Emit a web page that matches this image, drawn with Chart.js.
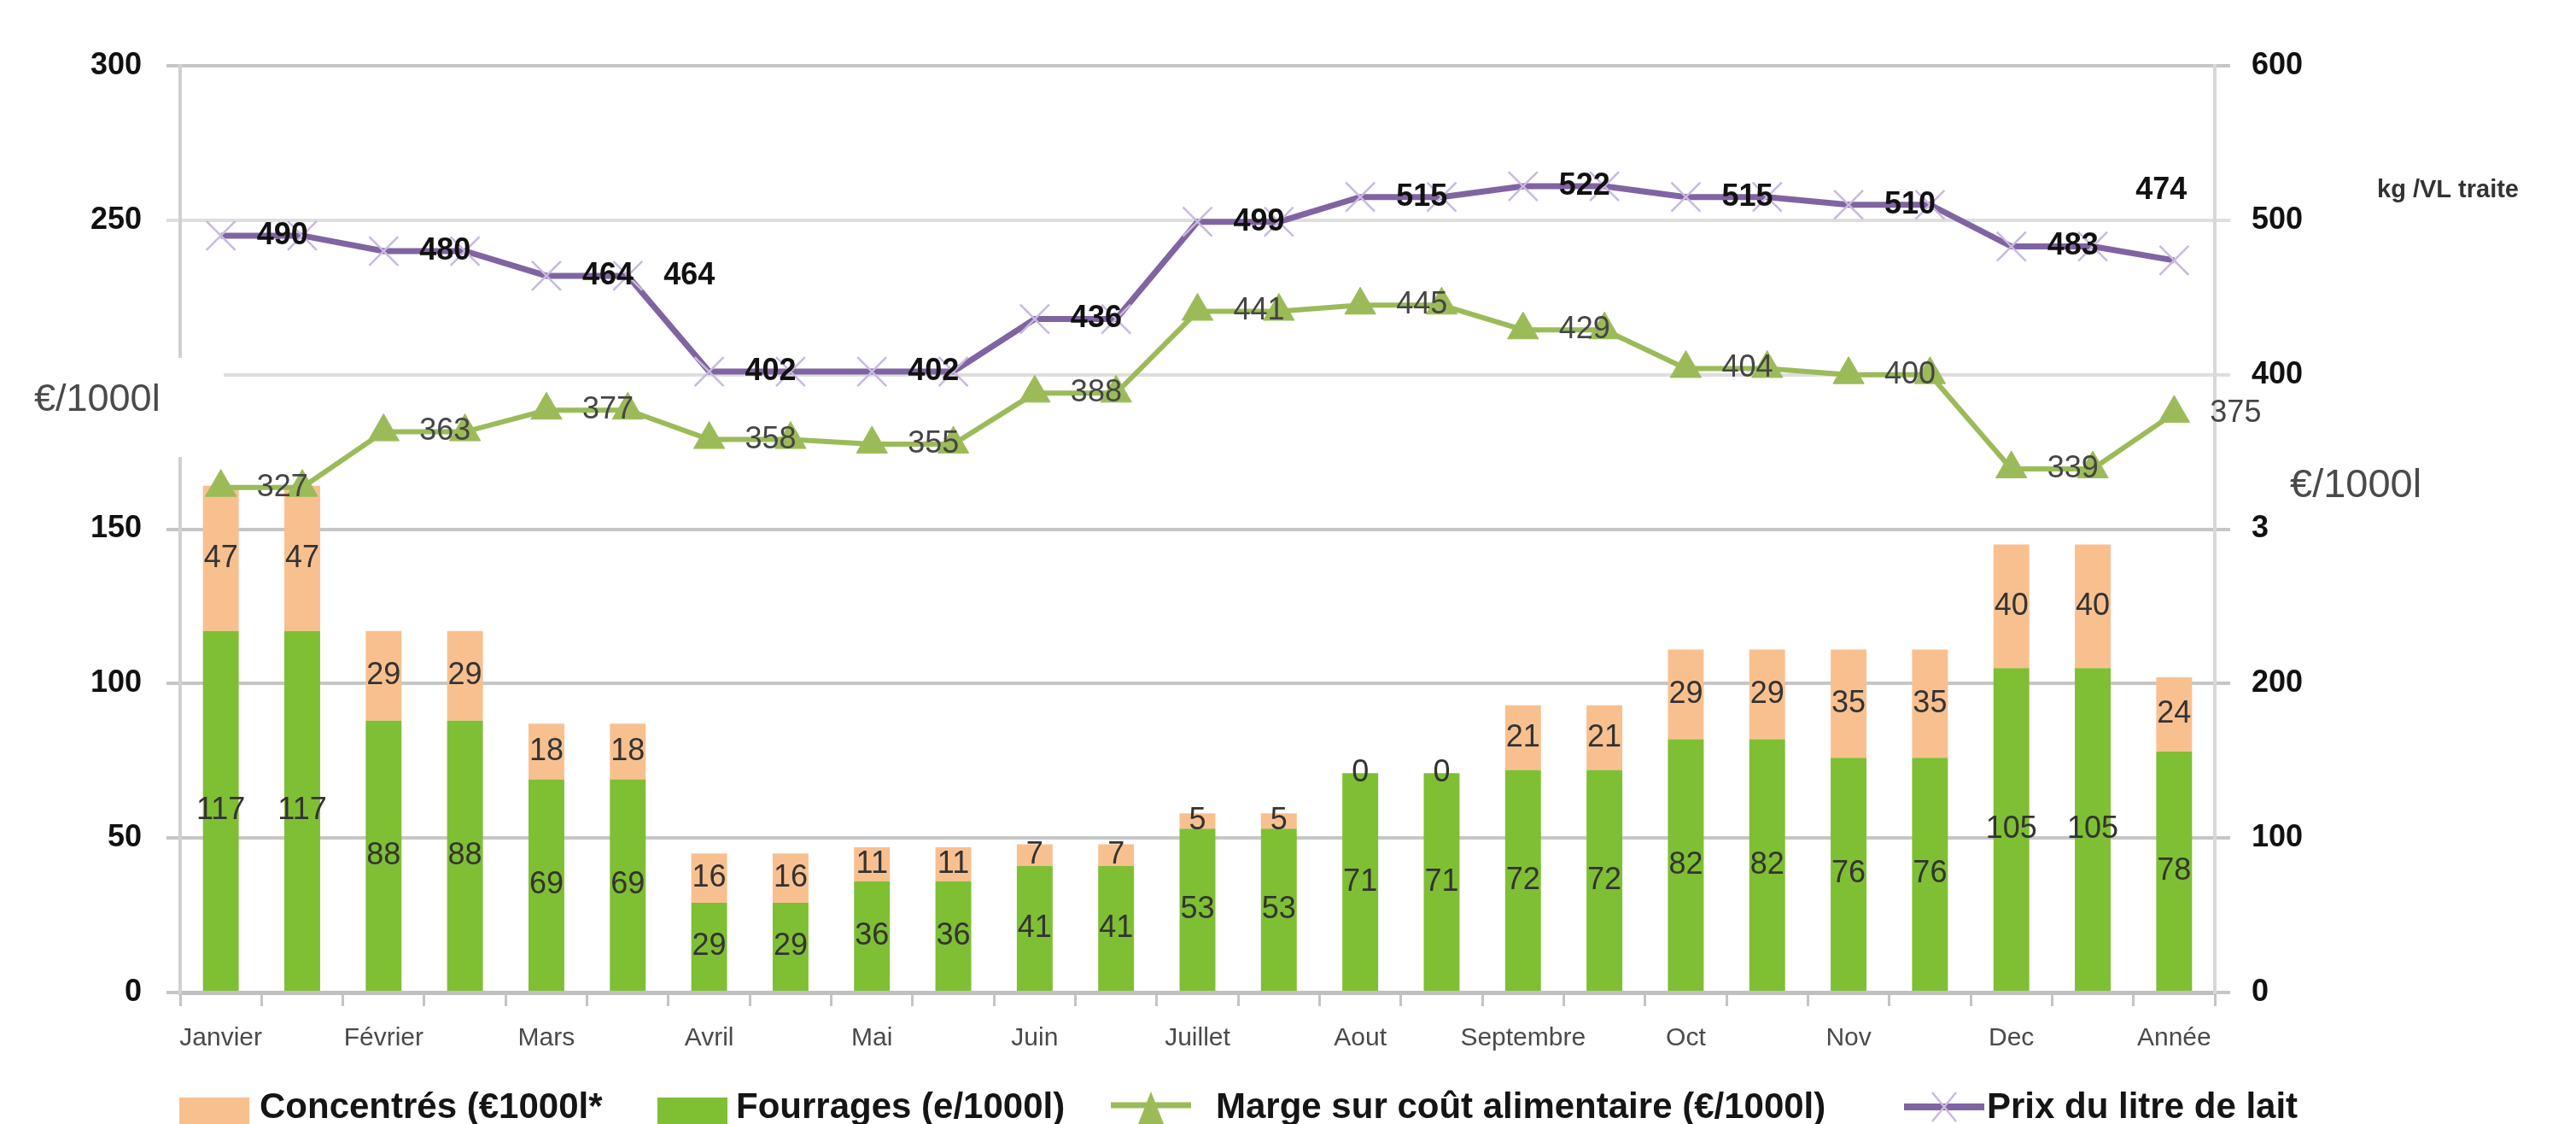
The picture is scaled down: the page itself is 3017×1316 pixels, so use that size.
<!DOCTYPE html>
<html>
<head>
<meta charset="utf-8">
<script src="https://cdn.jsdelivr.net/npm/chart.js@4.4.1/dist/chart.umd.min.js"></script>
<style>
  html, body { margin: 0; padding: 0; background: #ffffff; }
  #wrap { width: 3017px; height: 1316px; }
</style>
</head>
<body>
<div id="wrap"><canvas id="chart" width="3017" height="1316"></canvas></div>
<script>
// ---------- Data ----------

const months = ["Janvier","","Février","","Mars","","Avril","","Mai","","Juin","","Juillet","",
                "Aout","","Septembre","","Oct","","Nov","","Dec","","Année"];

const fourrages  = [117,117,88,88,69,69,29,29,36,36,41,41,53,53,71,71,72,72,82,82,76,76,105,105,78];
const concentres = [47,47,29,29,18,18,16,16,11,11,7,7,5,5,0,0,21,21,29,29,35,35,40,40,24];
const marge      = [327,327,363,363,377,377,358,358,355,355,388,388,441,441,445,445,429,429,404,404,400,400,339,339,375];
const prixLait   = [490,490,480,480,464,464,402,402,402,402,436,436,499,499,515,515,522,522,515,515,510,510,483,483,474];

// which points carry a value label
const margeLabelled = [0,2,4,6,8,10,12,14,16,18,20,22,24];
const prixLabelled  = [0,2,4,5,6,8,10,12,14,16,18,20,22,24];

const FONT = '"Liberation Sans", Arial, sans-serif';

// ---------- Value labels ----------

const valueLabels = {
    id: "valueLabels",
    afterDatasetsDraw(chart){
        const ctx = chart.ctx;
        ctx.save();
        chart.data.datasets.forEach((ds, di)=>{
            const meta = chart.getDatasetMeta(di);
            meta.data.forEach((el, i)=>{
                const v = ds.data[i];
                if(ds.type === "bar"){
                    ctx.font = "36px " + FONT;
                    ctx.fillStyle = "#333333";
                    ctx.textAlign = "center";
                    ctx.textBaseline = "middle";
                    ctx.fillText(String(v), el.x, (el.y + el.base) / 2);
                    return;
                }
                if(!ds.labelAt.includes(i)) return;
                ctx.font = ds.labelFont;
                ctx.fillStyle = ds.labelColor;
                ctx.textBaseline = "middle";
                if(ds.labelAbove && i === ds.data.length - 1){
                    ctx.textAlign = "center";
                    ctx.fillText(String(v), el.x - 15, el.y - 82);
                }else{
                    ctx.textAlign = "left";
                    ctx.fillText(String(v), el.x + 42, el.y);
                }
            });
        });
        ctx.restore();
    }
};

// ---------- Extra texts and legend ----------

const extras = {
    id: "extras",
    afterDraw(chart){
        const ctx = chart.ctx;
        ctx.save();

        // gap in the left axis where the unit text sits
        ctx.fillStyle = "#ffffff";
        ctx.fillRect(180, 419, 82, 116);

        ctx.fillStyle = "#4a4a4a";
        ctx.textBaseline = "middle";
        ctx.textAlign = "left";
        ctx.font = "45px " + FONT;
        ctx.fillText("€/1000l", 40, 469);
        ctx.font = "47px " + FONT;
        ctx.fillText("€/1000l", 2682, 569);

        ctx.fillStyle = "#333333";
        ctx.font = "bold 29px " + FONT;
        ctx.fillText("kg /VL traite", 2784, 223);

        // legend
        const ds = chart.data.datasets;
        const items = [
            {d: ds[1], kind: "box",   x: 210,  tx: 304},
            {d: ds[0], kind: "box",   x: 770,  tx: 862},
            {d: ds[2], kind: "tri",   x: 1301, tx: 1424},
            {d: ds[3], kind: "cross", x: 2230, tx: 2327}
        ];
        items.forEach(it=>{
            if(it.kind === "box"){
                ctx.fillStyle = it.d.backgroundColor;
                ctx.fillRect(it.x, 1285, 82, 45);
            }else{
                ctx.strokeStyle = it.d.borderColor;
                ctx.lineWidth = it.kind === "tri" ? 7 : 8;
                const ly = it.kind === "tri" ? 1294 : 1296;
                ctx.beginPath();
                ctx.moveTo(it.x, ly);
                ctx.lineTo(it.x + 94, ly);
                ctx.stroke();
                const cx = it.x + 47;
                if(it.kind === "tri"){
                    ctx.fillStyle = it.d.pointBackgroundColor;
                    ctx.beginPath();
                    ctx.moveTo(cx, ly - 16);
                    ctx.lineTo(cx + 15, ly + 22);
                    ctx.lineTo(cx - 15, ly + 22);
                    ctx.closePath();
                    ctx.fill();
                }else{
                    ctx.strokeStyle = it.d.pointBorderColor;
                    ctx.lineWidth = 2.5;
                    ctx.beginPath();
                    ctx.moveTo(cx - 14, ly - 17); ctx.lineTo(cx + 14, ly + 17);
                    ctx.moveTo(cx + 14, ly - 17); ctx.lineTo(cx - 14, ly + 17);
                    ctx.stroke();
                }
            }
            ctx.fillStyle = "#151515";
            ctx.font = "bold 42px " + FONT;
            ctx.textAlign = "left";
            ctx.textBaseline = "alphabetic";
            ctx.fillText(it.d.label, it.tx, 1309);
        });

        ctx.restore();
    }
};

// ---------- Chart ----------

const lightLeft  = [200, 250];
const lightRight = [400, 500];

new Chart(document.getElementById("chart"), {
    data: {
        labels: months,
        datasets: [
            {
                type: "bar",
                label: "Fourrages (e/1000l)",
                data: fourrages,
                backgroundColor: "#7fbf33",
                yAxisID: "y",
                stack: "s",
                order: 1,
                barPercentage: 0.44,
                categoryPercentage: 1
            },
            {
                type: "bar",
                label: "Concentrés (€1000l*",
                data: concentres,
                backgroundColor: "#f9c08f",
                yAxisID: "y",
                stack: "s",
                order: 1,
                barPercentage: 0.44,
                categoryPercentage: 1
            },
            {
                type: "line",
                label: "Marge sur coût alimentaire (€/1000l)",
                data: marge,
                yAxisID: "y1",
                order: 0,
                borderColor: "#9bbb59",
                borderWidth: 6,
                pointStyle: "triangle",
                pointRadius: 21,
                pointBackgroundColor: "#9bbb59",
                pointBorderColor: "#9bbb59",
                pointBorderWidth: 1,
                tension: 0,
                fill: false,
                labelAt: margeLabelled,
                labelFont: "36px " + FONT,
                labelColor: "#454545"
            },
            {
                type: "line",
                label: "Prix du litre de lait",
                data: prixLait,
                yAxisID: "y1",
                order: 0,
                borderColor: "#8064a2",
                borderWidth: 7,
                pointStyle: "crossRot",
                pointRadius: 24,
                pointBorderColor: "#c9b9de",
                pointBorderWidth: 2.5,
                tension: 0,
                fill: false,
                labelAt: prixLabelled,
                labelAbove: true,
                labelFont: "bold 36px " + FONT,
                labelColor: "#111111"
            }
        ]
    },
    options: {
        responsive: false,
        devicePixelRatio: 1,
        animation: false,
        layout: { padding: { top: 77, left: 0, right: 0, bottom: 0 }, autoPadding: false },
        plugins: {
            legend: { display: false },
            tooltip: { enabled: false }
        },
        scales: {
            x: {
                stacked: true,
                offset: true,
                grid: {
                    offset: true,
                    drawOnChartArea: false,
                    drawTicks: true,
                    tickLength: 16,
                    color: "#c4c4c4",
                    lineWidth: 3
                },
                border: { display: true, color: "#c0c0c0", width: 5 },
                ticks: {
                    autoSkip: false,
                    maxRotation: 0,
                    minRotation: 0,
                    padding: 20,
                    color: "#4a4a4a",
                    font: { size: 30, family: FONT }
                },
                afterFit(s){ s.height = 154; }
            },
            y: {
                type: "linear",
                position: "left",
                stacked: true,
                min: 0,
                max: 300,
                ticks: {
                    stepSize: 50,
                    padding: 29,
                    color: "#111111",
                    font: { size: 36, weight: "bold", family: FONT },
                    callback: v => v === 200 ? "" : v
                },
                grid: {
                    color: c => (c.tick && lightLeft.includes(c.tick.value)) ? "#dedede" : "#c6c6c6",
                    lineWidth: 4,
                    tickLength: 16
                },
                border: { display: true, color: "#d0d0d0", width: 4 },
                afterFit(s){ s.width = 211; }
            },
            y1: {
                type: "linear",
                position: "right",
                min: 0,
                max: 600,
                ticks: {
                    stepSize: 100,
                    padding: 25,
                    color: "#111111",
                    font: { size: 36, weight: "bold", family: FONT },
                    callback: v => v === 300 ? "3" : v
                },
                grid: {
                    drawOnChartArea: false,
                    color: c => (c.tick && lightRight.includes(c.tick.value)) ? "#dedede" : "#c6c6c6",
                    lineWidth: 4,
                    tickLength: 18
                },
                border: { display: true, color: "#d8d8d8", width: 4 },
                afterFit(s){ s.width = 423; }
            }
        }
    },
    plugins: [valueLabels, extras]
});
</script>
</body>
</html>
